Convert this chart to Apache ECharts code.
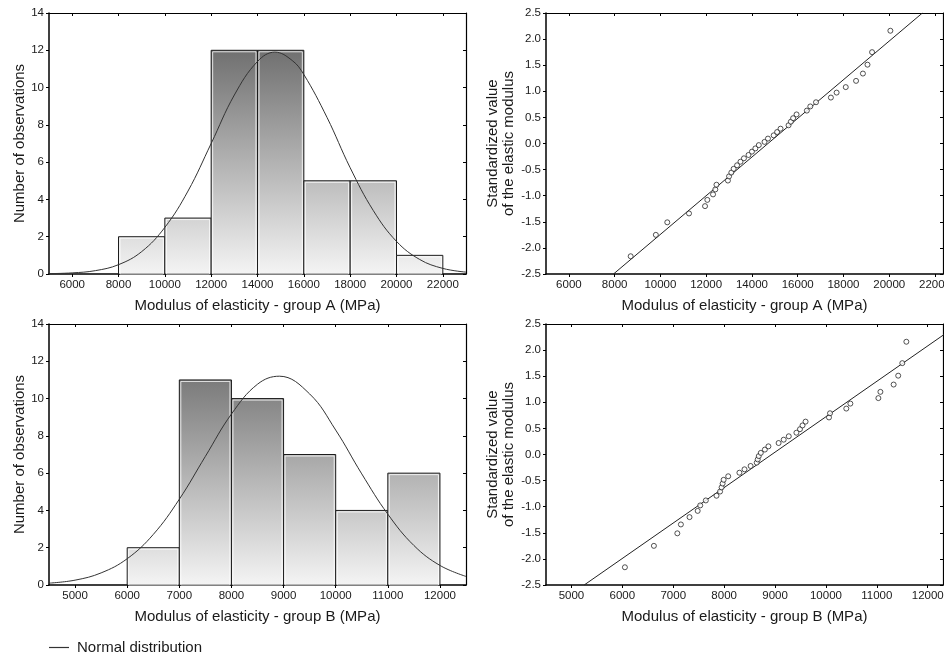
<!DOCTYPE html>
<html><head><meta charset="utf-8">
<script src="https://cdn.jsdelivr.net/npm/echarts@6/dist/echarts.min.js"></script>
<style>html,body{margin:0;padding:0;background:#fff}#c{width:944px;height:658px}</style>
</head><body><div id="c"></div>
<script>
// ---------- data ----------
const binEdgesA = [8000, 10000, 12000, 14000, 16000, 18000, 20000, 22000];
const countsA   = [2, 3, 12, 12, 5, 5, 1];
const binEdgesB = [6000, 7000, 8000, 9000, 10000, 11000, 12000];
const countsB   = [2, 11, 10, 7, 4, 6];

const curveA = [[5000,0.02],[6000,0.06],[7000,0.18],[8000,0.5],[9000,1.2],[10000,2.5],[11000,4.45],[12000,7.0],[13000,9.6],[14000,11.4],[14750,11.9],[15500,11.45],[16000,10.7],[17000,8.4],[18000,5.7],[19000,3.4],[20000,1.75],[21000,0.78],[22000,0.3],[23000,0.1]];
const curveB = [[4500,0.1],[5000,0.26],[5500,0.65],[6000,1.41],[6500,2.71],[7000,4.6],[7500,6.9],[8000,9.17],[8500,10.77],[8920,11.2],[9500,10.25],[10000,8.31],[10500,5.96],[11000,3.8],[11500,2.12],[12000,1.05],[12500,0.46]];

const qqXA = [8700,9800,10300,11250,11950,12050,12300,12400,12450,12950,13000,13100,13200,13350,13500,13650,13850,14000,14150,14300,14550,14700,14950,15100,15250,15600,15700,15800,15950,16400,16550,16800,17450,17700,18100,18550,18850,19050,19250,20050];
const qqXB = [6050,6620,7080,7150,7320,7480,7530,7640,7850,7920,7950,7970,7990,8080,8300,8400,8520,8640,8660,8680,8720,8800,8870,9070,9170,9270,9420,9490,9540,9600,10060,10080,10400,10480,11030,11070,11330,11420,11500,11580];
const qqZ  = [-2.16,-1.75,-1.51,-1.34,-1.20,-1.08,-0.975,-0.88,-0.79,-0.71,-0.63,-0.557,-0.485,-0.417,-0.349,-0.284,-0.22,-0.156,-0.094,-0.031,0.031,0.094,0.156,0.22,0.284,0.349,0.417,0.485,0.557,0.63,0.71,0.79,0.88,0.975,1.08,1.20,1.34,1.51,1.75,2.16];
const lineA = [[7950,-2.5],[21450,2.5]];
const lineB = [[5250,-2.5],[12500,2.42]];

const ticksA = [6000,8000,10000,12000,14000,16000,18000,20000,22000];
const ticksB = [5000,6000,7000,8000,9000,10000,11000,12000];

const titleA = 'Modulus of elasticity - group A (MPa)';
const titleB = 'Modulus of elasticity - group B (MPa)';
const yTitleHist = 'Number of observations';
const yTitleQQ = 'Standardized value\nof the elastic modulus';
const legendName = 'Normal distribution';

// ---------- helpers ----------
const FONT = 'Liberation Sans';
const NARROW = '"Liberation Sans Narrow", "Liberation Sans", sans-serif';
const TXT = '#1a1a1a';

function xAxisMain(grid, min, max, ticks, name) {
  return {type:'value', gridIndex:grid, min:min, max:max, position:'bottom',
    axisLine:{onZero:false, lineStyle:{color:'#000', width:1.5}},
    axisTick:{customValues:ticks, length:3, inside:false, lineStyle:{color:'#000'}},
    axisLabel:{customValues:ticks, color:TXT, fontFamily:NARROW, fontSize:11.5, margin:5, formatter:v=>String(v)},
    splitLine:{show:false},
    name:name, nameLocation:'middle', nameGap:24,
    nameTextStyle:{color:TXT, fontFamily:FONT, fontSize:15}};
}
function xAxisTop(grid, min, max, ticks) {
  return {type:'value', gridIndex:grid, min:min, max:max, position:'top',
    axisLine:{onZero:false, lineStyle:{color:'#000', width:1.2}},
    axisTick:{customValues:ticks, length:3, inside:true, lineStyle:{color:'#000'}},
    axisLabel:{show:false}, splitLine:{show:false}};
}
function yAxisHist(grid, name) {
  return {type:'value', gridIndex:grid, min:0, max:14, interval:2, position:'left',
    axisLine:{show:true, onZero:false, lineStyle:{color:'#000', width:1.5}},
    axisTick:{show:true, length:3, lineStyle:{color:'#000'}},
    axisLabel:{color:TXT, fontFamily:NARROW, fontSize:11.5, margin:5},
    splitLine:{show:false},
    name:name, nameLocation:'middle', nameGap:22,
    nameTextStyle:{color:TXT, fontFamily:FONT, fontSize:15}};
}
function yAxisRight(grid, min, max, interval) {
  return {type:'value', gridIndex:grid, min:min, max:max, interval:interval, position:'right',
    axisLine:{show:true, onZero:false, lineStyle:{color:'#000', width:1.2}},
    axisTick:{show:true, inside:true, length:3, lineStyle:{color:'#000'}},
    axisLabel:{show:false}, splitLine:{show:false}};
}
function yAxisQQ(grid, name) {
  return {type:'value', gridIndex:grid, min:-2.5, max:2.5, interval:0.5, position:'left',
    axisLine:{show:true, onZero:false, lineStyle:{color:'#000', width:1.5}},
    axisTick:{show:true, length:3, lineStyle:{color:'#000'}},
    axisLabel:{color:TXT, fontFamily:NARROW, fontSize:11.5, margin:5, formatter:v=>v.toFixed(1)},
    splitLine:{show:false},
    name:name, nameLocation:'middle', nameGap:26,
    nameTextStyle:{color:TXT, fontFamily:FONT, fontSize:15, lineHeight:16, align:'center'}};
}

function histData(edges, counts){ return counts.map((c,i)=>[edges[i], edges[i+1], c]); }
function zip(xs, ys){ return xs.map((x,i)=>[x, ys[i]]); }

function renderBar(params, api){
  const x0 = api.value(0), x1 = api.value(1), c = api.value(2);
  const p0 = api.coord([x0, c]);
  const p1 = api.coord([x1, 0]);
  const top = api.coord([x0, 14])[1];
  const bot = p1[1];
  const grad = new echarts.graphic.LinearGradient(0, top, 0, bot, [
    {offset:0, color:'#5a5a5a'}, {offset:1, color:'#f4f4f4'}], true);
  const w = p1[0]-p0[0], h = p1[1]-p0[1];
  return {type:'group', children:[
    {type:'rect', shape:{x:p0[0], y:p0[1], width:w, height:h}, style:{fill:grad, stroke:'#1c1c1c', lineWidth:1}},
    {type:'rect', shape:{x:p0[0]+1.5, y:p0[1]+1.5, width:w-3, height:h-1.5}, style:{fill:null, stroke:'rgba(255,255,255,0.8)', lineWidth:1}}
  ]};
}

const chart = echarts.init(document.getElementById('c'), null, {renderer:'canvas'});
chart.setOption({
  backgroundColor:'#fff',
  animation:false,
  legend:{data:[legendName], left:49, top:640, padding:0, icon:'rect', itemWidth:20, itemHeight:1.2, itemGap:8,
    textStyle:{color:TXT, fontFamily:FONT, fontSize:15, padding:[0,0,0,3]}},
  grid:[
    {left:49, right:478, top:13, bottom:384, outerBoundsMode:'none', containLabel:false},
    {left:546, right:1, top:13, bottom:384, outerBoundsMode:'none', containLabel:false},
    {left:49, right:478, top:324, bottom:73, outerBoundsMode:'none', containLabel:false},
    {left:546, right:1, top:324, bottom:73, outerBoundsMode:'none', containLabel:false}
  ],
  xAxis:[
    xAxisMain(0, 5000, 23000, ticksA, titleA),
    xAxisMain(1, 5000, 22350, ticksA, titleA),
    xAxisMain(2, 4500, 12500, ticksB, titleB),
    xAxisMain(3, 4500, 12300, ticksB, titleB),
    xAxisTop(0, 5000, 23000, ticksA),
    xAxisTop(1, 5000, 22350, ticksA),
    xAxisTop(2, 4500, 12500, ticksB),
    xAxisTop(3, 4500, 12300, ticksB)
  ],
  yAxis:[
    yAxisHist(0, yTitleHist),
    yAxisQQ(1, yTitleQQ),
    yAxisHist(2, yTitleHist),
    yAxisQQ(3, yTitleQQ),
    yAxisRight(0, 0, 14, 2),
    yAxisRight(2, 0, 14, 2),
    yAxisRight(1, -2.5, 2.5, 0.5),
    yAxisRight(3, -2.5, 2.5, 0.5)
  ],
  series:[
    {type:'custom', xAxisIndex:0, yAxisIndex:0, renderItem:renderBar, data:histData(binEdgesA, countsA), encode:{x:[0,1], y:2}, z:1},
    {type:'custom', xAxisIndex:2, yAxisIndex:2, renderItem:renderBar, data:histData(binEdgesB, countsB), encode:{x:[0,1], y:2}, z:1},
    {name:legendName, type:'line', xAxisIndex:0, yAxisIndex:0, data:curveA, smooth:0.4, showSymbol:false, color:'#333',
      lineStyle:{color:'#333', width:1}, z:3},
    {name:legendName, type:'line', xAxisIndex:2, yAxisIndex:2, data:curveB, smooth:0.4, showSymbol:false, color:'#333',
      lineStyle:{color:'#333', width:1}, z:3},
    {type:'line', xAxisIndex:1, yAxisIndex:1, data:lineA, showSymbol:false, lineStyle:{color:'#222', width:1}, z:2},
    {type:'line', xAxisIndex:3, yAxisIndex:3, data:lineB, showSymbol:false, lineStyle:{color:'#222', width:1}, z:2},
    {type:'scatter', xAxisIndex:1, yAxisIndex:1, data:zip(qqXA, qqZ), symbol:'circle', symbolSize:5,
      itemStyle:{color:'#fff', borderColor:'#111', borderWidth:0.9}, z:3},
    {type:'scatter', xAxisIndex:3, yAxisIndex:3, data:zip(qqXB, qqZ), symbol:'circle', symbolSize:5,
      itemStyle:{color:'#fff', borderColor:'#111', borderWidth:0.9}, z:3}
  ]
});
</script></body></html>
